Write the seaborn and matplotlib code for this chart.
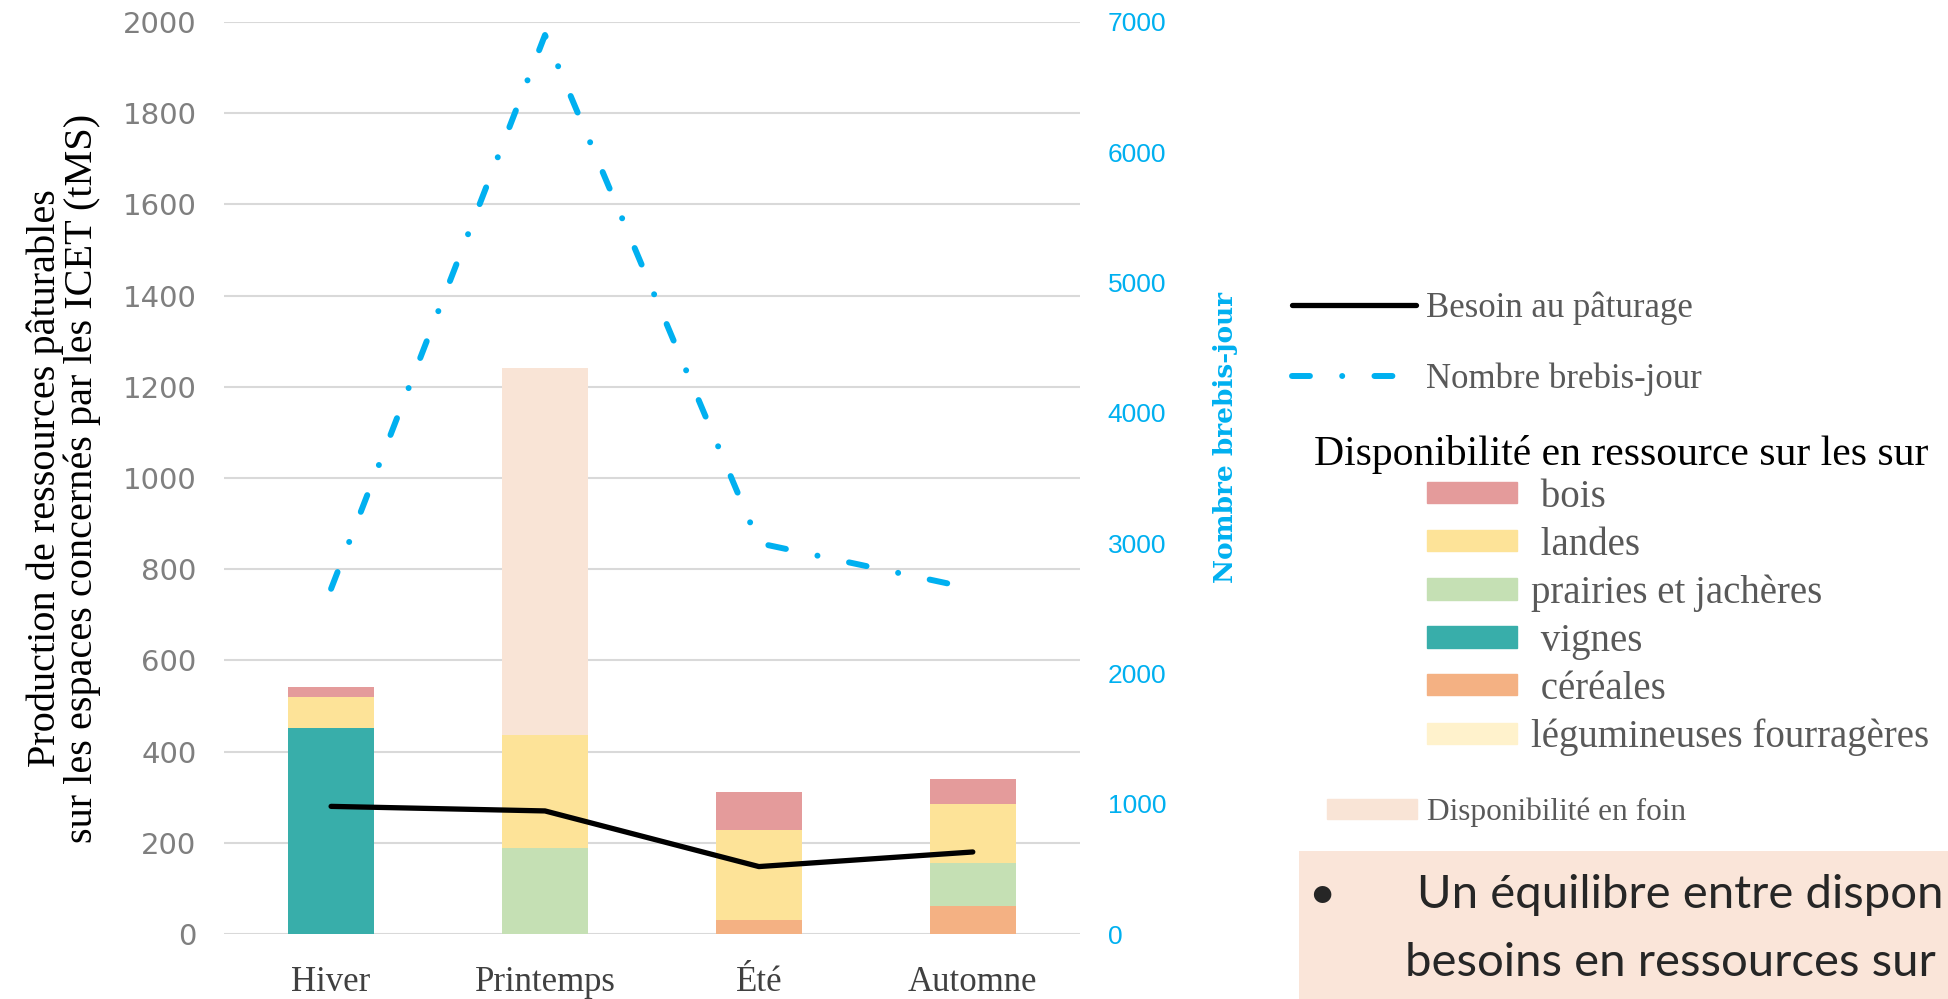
import seaborn as sns
import matplotlib.pyplot as plt
import matplotlib.patches as mpatches
from matplotlib.lines import Line2D
import numpy as np

# categories and values
seasons = ["Hiver", "Printemps", "Été", "Automne"]
legumineuses = [0, 0, 0, 0]
cereales = [0, 0, 30, 62]
vignes = [452, 0, 0, 0]
prairies = [0, 188, 0, 93]
landes = [68, 248, 199, 131]
bois = [22, 0, 82, 54]
foin = [0, 805, 0, 0]
besoin = [280, 270, 148, 180]
brebis = [2650, 6900, 3000, 2650]

left_ticks = list(range(0, 2001, 200))
right_ticks = list(range(0, 7001, 1000))

# stacking order bottom -> top
series = {
    "légumineuses fourragères": legumineuses,
    "céréales": cereales,
    "vignes": vignes,
    "prairies et jachères": prairies,
    "landes": landes,
    "bois": bois,
    "Disponibilité en foin": foin,
}
colors = {
    "légumineuses fourragères": "#FFF2CC",
    "céréales": "#F4B183",
    "vignes": "#38AEAA",
    "prairies et jachères": "#C5E0B4",
    "landes": "#FDE398",
    "bois": "#E49B9B",
    "Disponibilité en foin": "#F9E4D6",
}
legend_labels = [" bois", " landes", "prairies et jachères", " vignes", " céréales", "légumineuses fourragères"]
legend_keys = ["bois", "landes", "prairies et jachères", "vignes", "céréales", "légumineuses fourragères"]

sns.set_style("white")  # plain background
plt.rcParams["font.family"] = ["Liberation Serif", "DejaVu Serif"]

blue = "#00B0F0"
gray_txt = "#595959"
dashdot = (0, (3, 5.4, 0.01, 5.4))

fig = plt.figure(figsize=(19.49, 9.99), dpi=100)
ax = fig.add_axes([0.115, 0.065, 0.439, 0.913])

# stacked bars
bottom = np.zeros(len(seasons))
for name, vals in series.items():
    vals = np.array(vals, dtype=float)
    sns.barplot(x=seasons, y=vals, bottom=bottom, color=colors[name], width=0.4,
                saturation=1, errorbar=None, linewidth=0, edgecolor="none", ax=ax)
    bottom = bottom + vals

# grazing need line
sns.lineplot(x=seasons, y=besoin, color="black", lw=3.8, ax=ax)

# sheep-days on the secondary axis
ax2 = ax.twinx()
sns.lineplot(x=seasons, y=brebis, color=blue, lw=4.3, linestyle=dashdot,
             dash_capstyle="round", ax=ax2)

ax.set_xlim(-0.5, 3.5)
ax.set_ylim(0, 2000)
ax.set_yticks(left_ticks)
ax.set_yticklabels([str(t) for t in left_ticks], fontfamily="DejaVu Sans", fontsize=21, color="#7F7F7F")
ax.set_xticks(range(len(seasons)))
ax.set_xticklabels(seasons, fontsize=25, color="#404040")
ax.tick_params(axis="y", length=0, pad=20)
ax.tick_params(axis="x", length=0, pad=23)
ax.yaxis.grid(True, color="#D9D9D9", lw=1.5)
ax.xaxis.grid(False)
ax.set_axisbelow(True)

ax2.set_ylim(0, 7000)
ax2.set_yticks(right_ticks)
ax2.set_yticklabels([str(t) for t in right_ticks], fontfamily="Liberation Sans", fontsize=19, color=blue)
ax2.tick_params(axis="y", length=0, pad=20)
ax2.grid(False)

for a in (ax, ax2):
    for s in a.spines.values():
        s.set_visible(False)

ax.set_ylabel("Production de ressources pâturables\nsur les espaces concernés par les ICET (tMS)",
              fontsize=29, color="black", linespacing=0.98, va="center")
ax.yaxis.set_label_coords(-0.187, 0.5)
ax2.set_ylabel("Nombre brebis-jour", fontsize=19, color=blue, fontfamily="DejaVu Serif",
               fontweight="bold", va="center")
ax2.yaxis.set_label_coords(1.170, 0.544)

# legends
line_handles = [Line2D([], [], color="black", lw=3.8),
                Line2D([], [], color=blue, lw=4.3, linestyle=dashdot, dash_capstyle="round")]
fig.legend(line_handles, ["Besoin au pâturage", "Nombre brebis-jour"], loc="center left",
           bbox_to_anchor=(0.663, 0.656), frameon=False, fontsize=25, labelcolor=gray_txt,
           handlelength=3.57, handletextpad=0.29, labelspacing=1.09, borderpad=0, borderaxespad=0)

fig.text(0.674, 0.545, "Disponibilité en ressource sur les sur", fontsize=30, color="black",
         va="center", ha="left")

patch_handles = [mpatches.Patch(color=colors[k]) for k in legend_keys]
fig.legend(patch_handles, legend_labels, loc="center left", bbox_to_anchor=(0.732, 0.382),
           frameon=False, fontsize=28, labelcolor=gray_txt, handlelength=2.31, handleheight=0.46,
           handletextpad=0.36, labelspacing=0.28, borderpad=0, borderaxespad=0)

fig.legend([mpatches.Patch(color=colors["Disponibilité en foin"])], ["Disponibilité en foin"],
           loc="center left", bbox_to_anchor=(0.681, 0.187), frameon=False, fontsize=22.5,
           labelcolor=gray_txt, handlelength=2.88, handleheight=0.58, handletextpad=0.32,
           borderpad=0, borderaxespad=0)

# text box bottom right
fig.patches.append(mpatches.Rectangle((0.6665, 0), 0.34, 0.148, transform=fig.transFigure,
                                      facecolor="#FAE5D9", edgecolor="none", zorder=0))
fig.text(0.671, 0.104, "•", fontsize=34, fontfamily="Lato", va="center", ha="left")
fig.text(0.727, 0.104, "Un équilibre entre dispon", fontsize=34, fontfamily="Lato",
         va="center", ha="left")
fig.text(0.721, 0.036, "besoins en ressources sur", fontsize=34, fontfamily="Lato",
         va="center", ha="left")

fig.savefig("out.png", dpi=100)
